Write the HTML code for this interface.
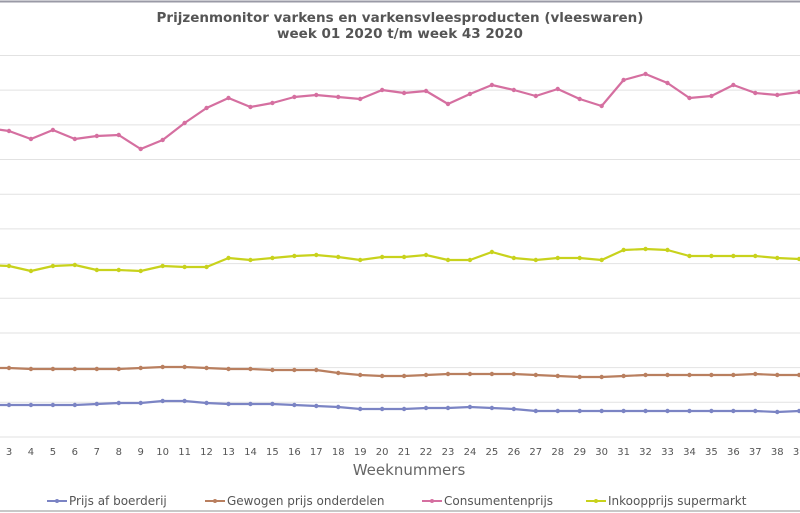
<!DOCTYPE html>
<html><head><meta charset="utf-8"><style>
html,body{margin:0;padding:0;background:#fff;width:800px;height:513px;overflow:hidden}
svg{display:block;font-family:"DejaVu Sans","Liberation Sans",sans-serif}
</style></head><body>
<svg id="c" width="800" height="513" viewBox="0 0 800 513" xmlns="http://www.w3.org/2000/svg">
<rect x="0" y="0" width="800" height="513" fill="#fff"/>
<line x1="0" y1="1.5" x2="800" y2="1.5" stroke="#9a9aa6" stroke-width="2"/>
<line x1="0" y1="511" x2="800" y2="511" stroke="#c8c8c8" stroke-width="2"/>
<text x="400" y="22" text-anchor="middle" font-size="13.5" font-weight="bold" fill="#555">Prijzenmonitor varkens en varkensvleesproducten (vleeswaren)</text>
<text x="400" y="38" text-anchor="middle" font-size="13.5" font-weight="bold" fill="#555">week 01 2020 t/m week 43 2020</text>
<g id="grid" stroke="#e2e2e2" stroke-width="1"></g>
<g id="xl" font-size="10" fill="#555" text-anchor="middle"></g>
<text x="409" y="475" text-anchor="middle" font-size="15" fill="#666">Weeknummers</text>
<g id="series"></g>
<g font-size="12" fill="#555">
<line x1="47" y1="501" x2="67" y2="501" stroke="#7b84c4" stroke-width="2"/><circle cx="57" cy="501" r="2" fill="#7b84c4"/>
<text x="69" y="505">Prijs af boerderij</text>
<line x1="205" y1="501" x2="225" y2="501" stroke="#b97f5f" stroke-width="2"/><circle cx="215" cy="501" r="2" fill="#b97f5f"/>
<text x="227" y="505">Gewogen prijs onderdelen</text>
<line x1="422" y1="501" x2="442" y2="501" stroke="#d56fa0" stroke-width="2"/><circle cx="432" cy="501" r="2" fill="#d56fa0"/>
<text x="444" y="505">Consumentenprijs</text>
<line x1="586" y1="501" x2="606" y2="501" stroke="#c8d21c" stroke-width="2"/><circle cx="596" cy="501" r="2" fill="#c8d21c"/>
<text x="608" y="505">Inkoopprijs supermarkt</text>
</g>
</svg>
<script>
var NS="http://www.w3.org/2000/svg";
function el(t,a,p){var e=document.createElementNS(NS,t);for(var k in a)e.setAttribute(k,a[k]);p.appendChild(e);return e;}
var g=document.getElementById("grid");
for(var i=0;i<12;i++){var y=55.5+i*34.68;el("line",{x1:0,x2:800,y1:y,y2:y},g);}
var xl=document.getElementById("xl");
function X(n){return 9+(n-3)*21.95;}
for(var n=3;n<=39;n++){var t=el("text",{x:X(n),y:455},xl);t.textContent=n;}
var data={
"#d56fa0":[128,131,139,130,139,136,135,149,140,123,108,98,107,103,97,95,97,99,90,93,91,104,94,85,90,96,89,99,106,80,74,83,98,96,85,93,95,92],
"#c8d21c":[265,266,271,266,265,270,270,271,266,267,267,258,260,258,256,255,257,260,257,257,255,260,260,252,258,260,258,258,260,250,249,250,256,256,256,256,258,259],
"#b97f5f":[368,368,369,369,369,369,369,368,367,367,368,369,369,370,370,370,373,375,376,376,375,374,374,374,374,375,376,377,377,376,375,375,375,375,375,374,375,375],
"#7b84c4":[405,405,405,405,405,404,403,403,401,401,403,404,404,404,405,406,407,409,409,409,408,408,407,408,409,411,411,411,411,411,411,411,411,411,411,411,412,411]
};
var s=document.getElementById("series");
for(var c in data){var d=data[c],pts=[];
for(var i=0;i<d.length;i++){pts.push(X(i+2)+","+d[i]);}
el("polyline",{points:pts.join(" "),fill:"none",stroke:c,"stroke-width":2.2,"stroke-linejoin":"round"},s);
for(var i=1;i<d.length;i++){el("circle",{cx:X(i+2),cy:d[i],r:2.2,fill:c},s);}
}
</script>
</body></html>
